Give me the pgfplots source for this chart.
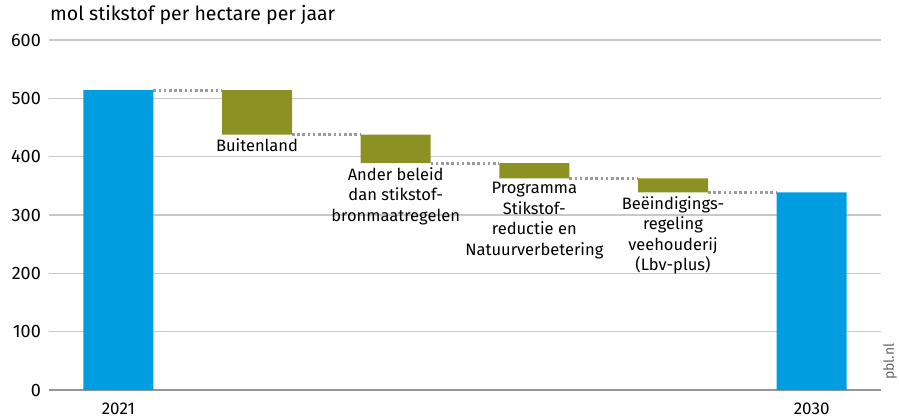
\documentclass[border=0pt]{standalone}
\usepackage{fontspec}
\setmainfont{Fira Sans}
\usepackage{pgfplots}
\pgfplotsset{compat=1.18}
\definecolor{pblblue}{RGB}{0,158,224}
\definecolor{pblolive}{RGB}{140,145,36}
\definecolor{gridgray}{RGB}{200,200,200}
\definecolor{axisgray}{RGB}{150,150,150}
\definecolor{dotgray}{RGB}{155,155,155}
\newcommand{\lab}{\fontsize{16.5}{20.5}\selectfont}
\begin{document}
\begin{tikzpicture}
\useasboundingbox (-49pt,-28pt) rectangle (850pt,390pt);
\begin{axis}[
  at={(0pt,0pt)}, anchor=south west,
  scale only axis, width=832pt, height=350pt,
  xmin=-0.5, xmax=5.5, ymin=0, ymax=600,
  ybar stacked, bar width=70pt,
  ytick={0,100,200,300,400,500,600},
  yticklabels={0,100,200,300,400,500,600},
  xtick={0,5}, xticklabels={2021,2030},
  ymajorgrids, grid style={gridgray, line width=1.5pt},
  axis x line*=bottom, axis y line*=left,
  y axis line style={draw=none},
  x axis line style={axisgray, line width=2pt, -},
  major tick length=0pt,
  tick style={draw=none},
  /pgf/number format/assume math mode=true,
  yticklabel style={font=\fontsize{18}{18}\selectfont, text=black, inner xsep=0pt, xshift=-8pt},
  xticklabel style={font=\fontsize{17}{17}\selectfont, text=black, anchor=base, yshift=-24pt},
]
\addplot[draw=none, fill=none] coordinates {(0,0) (1,438) (2,389) (3,363) (4,339) (5,0)};
\addplot[draw=none, fill=pblolive] coordinates {(0,0) (1,76) (2,49) (3,26) (4,24) (5,0)};
\addplot[draw=none, fill=pblblue] coordinates {(0,514) (1,0) (2,0) (3,0) (4,0) (5,339)};
\addplot[sharp plot, stack plots=false, forget plot, dotgray, line width=3pt, dash pattern=on 2.6pt off 2.6pt] coordinates {(0.2525,514) (0.7475,514)};
\addplot[sharp plot, stack plots=false, forget plot, dotgray, line width=3pt, dash pattern=on 2.6pt off 2.6pt] coordinates {(1.2525,438) (1.7475,438)};
\addplot[sharp plot, stack plots=false, forget plot, dotgray, line width=3pt, dash pattern=on 2.6pt off 2.6pt] coordinates {(2.2525,389) (2.7475,389)};
\addplot[sharp plot, stack plots=false, forget plot, dotgray, line width=3pt, dash pattern=on 2.6pt off 2.6pt] coordinates {(3.2525,363) (3.7475,363)};
\addplot[sharp plot, stack plots=false, forget plot, dotgray, line width=3pt, dash pattern=on 2.6pt off 2.6pt] coordinates {(4.2525,339) (4.7475,339)};
\node[anchor=north, align=center, inner sep=0pt, yshift=-4pt, font=\lab] at (axis cs:1,438) {Buitenland};
\node[anchor=north, align=center, inner sep=0pt, yshift=-4pt, font=\lab] at (axis cs:2,389) {Ander beleid\\dan stikstof-\\bronmaatregelen};
\node[anchor=north, align=center, inner sep=0pt, yshift=-4pt, font=\lab] at (axis cs:3,363) {Programma\\Stikstof-\\reductie en\\Natuurverbetering};
\node[anchor=north, align=center, inner sep=0pt, yshift=-4pt, font=\lab] at (axis cs:4,339) {Beëindigings-\\regeling\\veehouderij\\(Lbv-plus)};
\end{axis}
\node[anchor=base west, inner sep=0pt, font=\fontsize{19.5}{19.5}\selectfont] at (1pt,369pt) {mol stikstof per hectare per jaar};
\node[rotate=90, anchor=west, inner sep=0pt, font=\fontsize{14}{14}\selectfont, text=black!60] at (841pt,10pt) {pbl.nl};
\end{tikzpicture}
\end{document}
